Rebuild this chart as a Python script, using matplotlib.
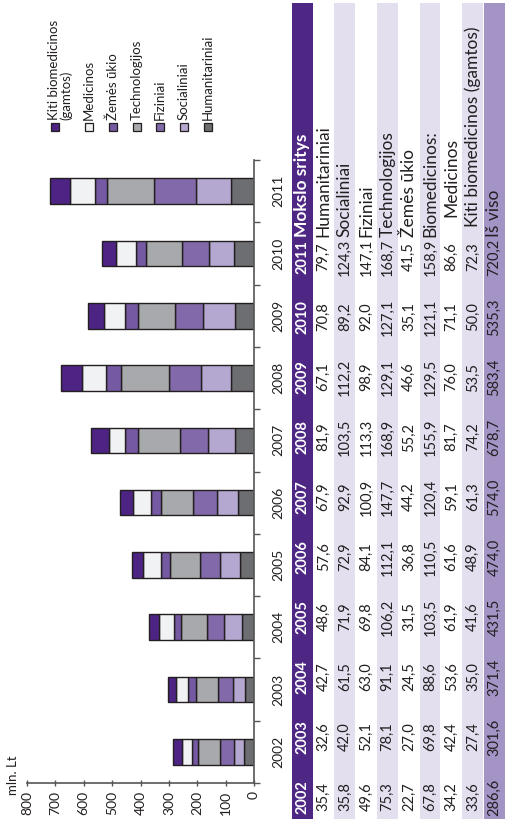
import numpy as np
import matplotlib.pyplot as plt
from matplotlib.patches import Rectangle

plt.rcParams['font.family'] = ['Lato', 'DejaVu Sans']

years = [2002, 2003, 2004, 2005, 2006, 2007, 2008, 2009, 2010, 2011]
humanitariniai = [35.4, 32.6, 42.7, 48.6, 57.6, 67.9, 81.9, 67.1, 70.8, 79.7]
socialiniai = [35.8, 42.0, 61.5, 71.9, 72.9, 92.9, 103.5, 112.2, 89.2, 124.3]
fiziniai = [49.6, 52.1, 63.0, 69.8, 84.1, 100.9, 113.3, 98.9, 92.0, 147.1]
technologijos = [75.3, 78.1, 91.1, 106.2, 112.1, 147.7, 168.9, 129.1, 127.1, 168.7]
zemes_ukio = [22.7, 27.0, 24.5, 31.5, 36.8, 44.2, 55.2, 46.6, 35.1, 41.5]
biomedicinos = [67.8, 69.8, 88.6, 103.5, 110.5, 120.4, 155.9, 129.5, 121.1, 158.9]
medicinos = [34.2, 42.4, 53.6, 61.9, 61.6, 59.1, 81.7, 76.0, 71.1, 86.6]
kiti_biomed = [33.6, 27.4, 35.0, 41.6, 48.9, 61.3, 74.2, 53.5, 50.0, 72.3]
is_viso = [286.6, 301.6, 371.4, 431.5, 474.0, 574.0, 678.7, 583.4, 535.3, 720.2]

# stacking order from 0 outward
series = [
    ('Humanitariniai', humanitariniai, '#6d6e71'),
    ('Socialiniai', socialiniai, '#b5a8d0'),
    ('Fiziniai', fiziniai, '#8169aa'),
    ('Technologijos', technologijos, '#a7a9ac'),
    ('Žemės ūkio', zemes_ukio, '#7559a3'),
    ('Medicinos', medicinos, '#f1f2f4'),
    ('Kiti biomedicinos\n(gamtos)', kiti_biomed, '#4d2384'),
]

table_rows = [
    ('Humanitariniai', humanitariniai, 0),
    ('Socialiniai', socialiniai, 0),
    ('Fiziniai', fiziniai, 0),
    ('Technologijos', technologijos, 0),
    ('Žemės ūkio', zemes_ukio, 0),
    ('Biomedicinos:', biomedicinos, 0),
    ('Medicinos', medicinos, 20),
    ('Kiti biomedicinos (gamtos)', kiti_biomed, 10),
    ('Iš viso', is_viso, 0),
]

edge = '#231f20'
txt = '#231f20'
W, H = 505, 819

fig = plt.figure(figsize=(W / 100, H / 100), dpi=100)

# overlay in pixel coordinates for the rotated table and legend
ov = fig.add_axes([0, 0, 1, 1])
ov.set_xlim(0, W)
ov.set_ylim(H, 0)
ov.axis('off')

# --- table (rotated) ---
x0, cw = 291.5, 21.35
lab_y = 237
ov.add_patch(Rectangle((x0, 3), cw, H, color='#4e2683', lw=0))
for r, (label, vals, indent) in enumerate(table_rows):
    xl = x0 + cw * (r + 1)
    if r == len(table_rows) - 1:
        ov.add_patch(Rectangle((xl, 3), W - xl, H, color='#a494c6', lw=0))
    elif r % 2 == 1:
        ov.add_patch(Rectangle((xl, 3), cw - 0.6, H, color='#e4dfef', lw=0))
    xc = xl + cw / 2
    ov.text(xc, lab_y - indent, label, rotation=90, ha='center', va='bottom',
            fontsize=12.5, color=txt)
    for i, v in enumerate(vals):
        s = f"{v:.1f}".replace('.', ',')
        ov.text(xc, 797 - 60 * i, s, rotation=90, ha='center', va='center',
                fontsize=10.5, color=txt)

xc = x0 + cw / 2
for i, y in enumerate(years):
    ov.text(xc, 797 - 60 * i, str(y), rotation=90, ha='center', va='center',
            fontsize=10.5, color='white', fontweight='bold')
ov.text(xc, lab_y, 'Mokslo sritys', rotation=90, ha='center', va='bottom',
        fontsize=12.5, color='white', fontweight='bold')

# --- legend (rotated) ---
leg_x = [55, 89, 113, 137, 160, 184, 208]
for (label, vals, col), lx in zip(series[::-1], leg_x):
    ov.add_patch(Rectangle((lx - 4, 123), 8, 8, facecolor=col, edgecolor=edge, lw=0.9))
    if '\n' in label:
        ov.text(lx - 7, 120, label, rotation=90, ha='left', va='bottom',
                fontsize=9.5, color=txt, multialignment='left', linespacing=1.0)
    else:
        ov.text(lx, 120, label, rotation=90, ha='center', va='bottom',
                fontsize=9.5, color=txt)

# --- chart ---
ax = fig.add_axes([27 / W, 36 / H, 227 / W, 623 / H])
pos = np.arange(len(years))
left = np.zeros(len(years))
for label, vals, col in series:
    ax.barh(pos, vals, left=left, height=0.41, color=col, edgecolor=edge, lw=1.0)
    left += np.array(vals)

ax.set_xlim(800, 0)
ax.set_ylim(-0.5, len(years) - 0.5)
ax.set_xticks(np.arange(0, 801, 100))
ax.tick_params(axis='x', direction='inout', length=5, width=1, color='#555555',
               labelsize=10, labelrotation=90, pad=3, labelcolor=txt)
ax.yaxis.tick_right()
ax.set_yticks(np.arange(-0.5, len(years), 1))
ax.set_yticklabels([])
ax.set_yticks(pos, minor=True)
ax.set_yticklabels([str(y) for y in years], minor=True, rotation=90, fontsize=10,
                   color=txt, va='center')
ax.tick_params(axis='y', which='major', direction='out', length=4, width=1, color='#555555')
ax.tick_params(axis='y', which='minor', length=0, pad=13)
for s in ['top', 'left']:
    ax.spines[s].set_visible(False)
for s in ['bottom', 'right']:
    ax.spines[s].set_color('#555555')
    ax.spines[s].set_linewidth(1.2)
ax.patch.set_alpha(0)

ov.text(13, 795, 'mln. Lt', rotation=90, ha='center', va='bottom', fontsize=9.5, color=txt)

fig.savefig('out.png', dpi=100)
